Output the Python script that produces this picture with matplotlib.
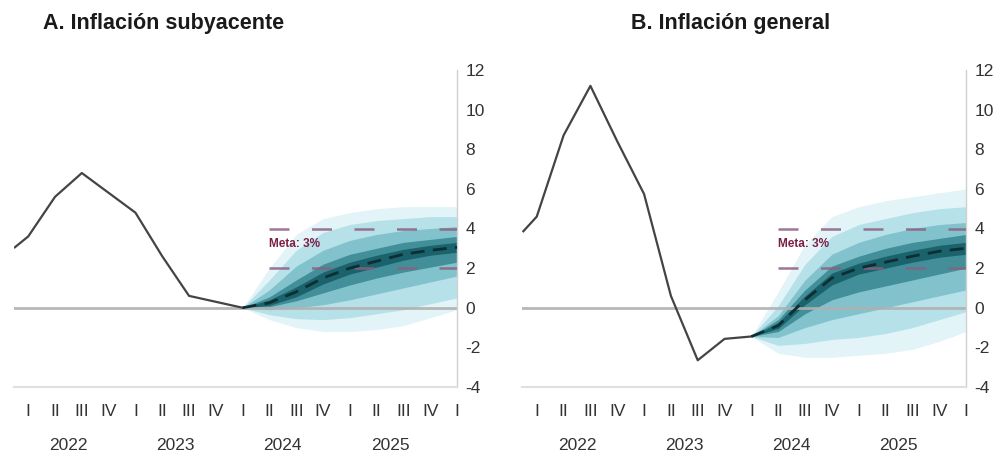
import matplotlib
matplotlib.use("Agg")
import matplotlib.pyplot as plt
from matplotlib.transforms import blended_transform_factory

plt.rcParams['font.family'] = ['Liberation Sans', 'DejaVu Sans']

# ---------------- data ----------------
quarter_labels = ["I", "II", "III", "IV"] * 4 + ["I"]
year_labels = ["2022", "2023", "2024", "2025"]
year_pos = [1.5, 5.5, 9.5, 13.5]

hist_x = [-0.5, 0, 1, 2, 3, 4, 5, 6, 7, 8]
core_hist = [3.05, 3.6, 5.6, 6.8, 5.8, 4.8, 2.6, 0.6, 0.3, 0.0]
head_hist = [3.86, 4.6, 8.7, 11.2, 8.4, 5.74, 0.6, -2.65, -1.57, -1.45]

fan_x = [8, 9, 10, 11, 12, 13, 14, 15, 16]

core_central = [0.0, 0.25, 0.8, 1.5, 2.0, 2.35, 2.7, 2.9, 3.05]
core_up1 = [0.0, 2.0, 3.7, 4.5, 4.8, 5.0, 5.1, 5.1, 5.1]
core_lo1 = [0.0, -0.6, -1.0, -1.2, -1.2, -1.1, -0.9, -0.5, -0.1]
core_up2 = [0.0, 1.4, 2.9, 3.8, 4.2, 4.4, 4.5, 4.6, 4.6]
core_lo2 = [0.0, -0.35, -0.55, -0.6, -0.5, -0.3, -0.1, 0.2, 0.5]
core_up3 = [0.0, 0.9, 2.1, 2.9, 3.4, 3.7, 3.9, 4.0, 4.1]
core_lo3 = [0.0, -0.1, 0.0, 0.15, 0.4, 0.7, 1.0, 1.3, 1.6]
core_up4 = [0.0, 0.55, 1.4, 2.2, 2.7, 3.0, 3.3, 3.45, 3.6]
core_lo4 = [0.0, 0.05, 0.35, 0.75, 1.15, 1.5, 1.8, 2.05, 2.3]
core_up5 = [0.0, 0.4, 1.05, 1.8, 2.3, 2.65, 2.95, 3.15, 3.3]
core_lo5 = [0.0, 0.12, 0.55, 1.2, 1.7, 2.05, 2.4, 2.65, 2.8]

head_central = [-1.45, -0.9, 0.4, 1.5, 2.0, 2.3, 2.6, 2.85, 3.0]
head_up1 = [-1.45, 0.8, 3.2, 4.6, 5.1, 5.4, 5.6, 5.8, 6.0]
head_lo1 = [-1.45, -2.3, -2.5, -2.5, -2.4, -2.3, -2.1, -1.7, -1.2]
head_up2 = [-1.45, 0.1, 2.2, 3.6, 4.2, 4.5, 4.8, 5.0, 5.1]
head_lo2 = [-1.45, -1.9, -1.8, -1.6, -1.5, -1.3, -1.0, -0.6, -0.2]
head_up3 = [-1.45, -0.4, 1.4, 2.7, 3.3, 3.7, 4.0, 4.2, 4.3]
head_lo3 = [-1.45, -1.5, -1.0, -0.6, -0.3, 0.0, 0.3, 0.6, 0.9]
head_up4 = [-1.45, -0.6, 0.9, 2.1, 2.6, 3.0, 3.3, 3.5, 3.7]
head_lo4 = [-1.45, -1.2, -0.3, 0.4, 0.8, 1.1, 1.4, 1.7, 2.0]
head_up5 = [-1.45, -0.75, 0.6, 1.75, 2.25, 2.6, 2.9, 3.15, 3.3]
head_lo5 = [-1.45, -1.05, 0.15, 1.15, 1.7, 2.0, 2.3, 2.55, 2.7]

target = 3
target_low, target_high = 2, 4
target_x = [9, 16]

fan_colors = ['#e2f4f8', '#b6e1e9', '#82c2cc', '#428f99', '#1a626c']

# ---------------- figure ----------------
W, H = 996, 453
fig = plt.figure(figsize=(W / 100, H / 100), dpi=100)

txt_color = '#333333'


def draw_panel(ax, hist, central, bands, title, title_x, title_ha):
    ax.set_xlim(-0.55, 16)
    ax.set_ylim(-4, 12)
    for (up, lo), c in zip(bands, fan_colors):
        ax.fill_between(fan_x, lo, up, color=c, lw=0, zorder=1)
    ax.axhline(0, color='#b0b0b0', lw=2, alpha=0.9, zorder=2)
    ax.plot(hist_x, hist, color='#444444', lw=1.6, zorder=4)
    ax.plot(fan_x, central, color='#0d2e33', lw=2, ls=(0, (5, 3)), zorder=5)
    for v in (target_low, target_high):
        ax.plot(target_x, [v, v], color='#8c5f80', lw=1.8,
                ls=(0, (8, 9)), alpha=0.85, zorder=3)
    ax.text(target_x[0], target + 0.2, "Meta: 3%", color='#7a1f45',
            fontsize=8.5, fontweight='bold', va='center', ha='left', zorder=6)

    ax.yaxis.tick_right()
    ax.set_yticks(range(-4, 13, 2))
    ax.set_yticklabels([str(v) for v in range(-4, 13, 2)])
    ax.set_xticks(range(0, 17))
    ax.set_xticklabels(quarter_labels)
    ax.tick_params(axis='y', length=0, pad=6, labelsize=12.5, colors=txt_color)
    ax.tick_params(axis='x', length=0, pad=12, labelsize=12.5, colors=txt_color)
    for s in ('top', 'left'):
        ax.spines[s].set_visible(False)
    ax.spines['right'].set_color('#d0d0d0')
    ax.spines['right'].set_linewidth(1)
    ax.spines['bottom'].set_color('#e0e0e0')
    ax.spines['bottom'].set_linewidth(1.5)
    trans = blended_transform_factory(ax.transData, ax.transAxes)
    for xp, lab in zip(year_pos, year_labels):
        ax.text(xp, -0.183, lab, transform=trans, ha='center', va='center',
                fontsize=12.5, color=txt_color)
    fig.text(title_x / W, 1 - 24 / H, title, ha=title_ha, va='center',
             fontsize=15.5, fontweight='bold', color='#1a1a1a')


bottom = (H - 387) / H
height = 317 / H
axA = fig.add_axes([13.5 / W, bottom, 443.5 / W, height])
axB = fig.add_axes([522 / W, bottom, 444 / W, height])

bandsA = [(core_up1, core_lo1), (core_up2, core_lo2), (core_up3, core_lo3),
          (core_up4, core_lo4), (core_up5, core_lo5)]
bandsB = [(head_up1, head_lo1), (head_up2, head_lo2), (head_up3, head_lo3),
          (head_up4, head_lo4), (head_up5, head_lo5)]

draw_panel(axA, core_hist, core_central, bandsA, "A. Inflación subyacente", 43, 'left')
draw_panel(axB, head_hist, head_central, bandsB, "B. Inflación general", 731, 'center')

fig.savefig("out.png", dpi=100)
